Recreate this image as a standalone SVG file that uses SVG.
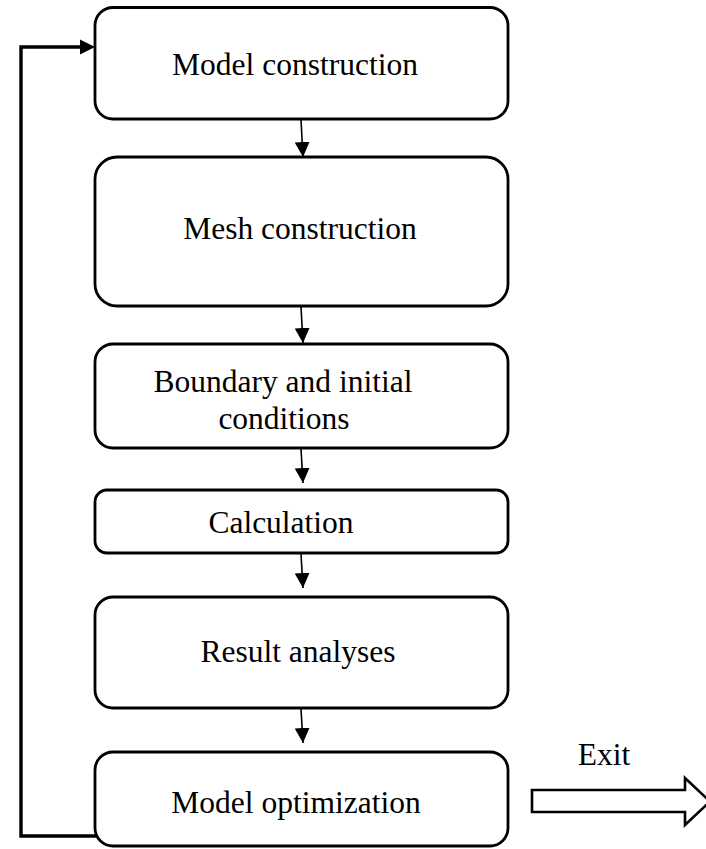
<svg xmlns="http://www.w3.org/2000/svg" width="706" height="849" viewBox="0 0 706 849">
<style>
.box{fill:#fff;stroke:#000;stroke-width:2.8}
.lbl{font-family:"Liberation Serif","Times New Roman",serif;font-size:31.5px;fill:#000;text-anchor:middle}
.con{fill:none;stroke:#000;stroke-width:1.6}
.fb{fill:none;stroke:#000;stroke-width:3.4}
</style>
<defs>
<marker id="ah" markerWidth="15" markerHeight="15" viewBox="0 0 15 15" refX="15" refY="7.5" orient="auto" markerUnits="userSpaceOnUse">
<path d="M0,0 L15,7.5 L0,15 Z" fill="#000"/>
</marker>
</defs>
<rect width="706" height="849" fill="#fff"/>
<g id="connectors">
<line class="con" x1="301" y1="120" x2="303" y2="157" marker-end="url(#ah)"/>
<line class="con" x1="301" y1="307" x2="303" y2="343" marker-end="url(#ah)"/>
<line class="con" x1="301" y1="449" x2="303" y2="483" marker-end="url(#ah)"/>
<line class="con" x1="301" y1="554" x2="303" y2="588" marker-end="url(#ah)"/>
<line class="con" x1="301" y1="709" x2="303" y2="743" marker-end="url(#ah)"/>
<polyline class="fb" points="97,836 21,836 21,47 82,47"/>
<path d="M80,39.5 L95,47 L80,54.5 Z" fill="#000"/>
</g>
<g id="n1"><rect class="box" x="95" y="7.5" width="413" height="111.5" rx="18"/><text class="lbl" x="295" y="75">Model construction</text></g>
<g id="n2"><rect class="box" x="95" y="157" width="413" height="149" rx="22"/><text class="lbl" x="300" y="239">Mesh construction</text></g>
<g id="n3"><rect class="box" x="95" y="344" width="413" height="104" rx="18"/><text class="lbl" x="283" y="392">Boundary and initial</text><text class="lbl" x="284" y="429">conditions</text></g>
<g id="n4"><rect class="box" x="95" y="490" width="413" height="63" rx="12"/><text class="lbl" x="281" y="533">Calculation</text></g>
<g id="n5"><rect class="box" x="95" y="597" width="413" height="111" rx="18"/><text class="lbl" x="298" y="662">Result analyses</text></g>
<g id="n6"><rect class="box" x="95" y="752" width="413" height="94" rx="18"/><text class="lbl" x="296" y="813">Model optimization</text></g>
<g id="exit">
<text class="lbl" x="604" y="765">Exit</text>
<path d="M532,790 L685,790 L685,778 L710,801.5 L685,825 L685,812 L532,812 Z" fill="#fff" stroke="#000" stroke-width="2.6"/>
</g>
</svg>
